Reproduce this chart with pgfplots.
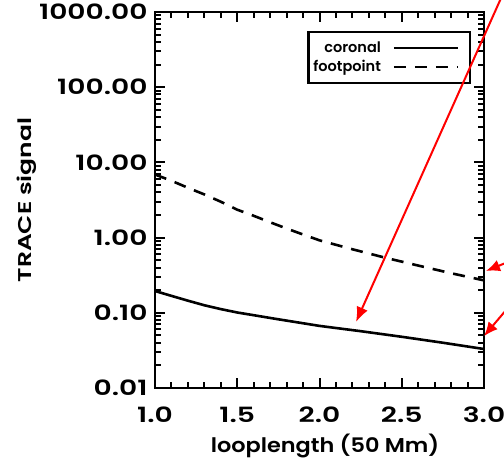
\documentclass[border=0pt]{standalone}
\usepackage{fontspec}
\setmainfont{Poppins}[BoldFont={Poppins SemiBold}]
\newfontfamily\tickfont{Poppins SemiBold}[FakeStretch=1.34]
\newfontfamily\xlabfont{Poppins SemiBold}[FakeStretch=1.12]
\newfontfamily\ylabfont{Poppins SemiBold}[FakeStretch=1.35]
\usepackage{pgfplots}
\pgfplotsset{compat=1.18}
\usetikzlibrary{arrows.meta}
\begin{document}
\begin{tikzpicture}
\begin{axis}[
  name=ax,
  scale only axis,
  width=329pt, height=376pt,
  ymode=log,
  xmin=1, xmax=3, ymin=0.01, ymax=1000,
  xtick={1,1.5,2,2.5,3},
  xticklabels={1.0,1.5,2.0,2.5,3.0},
  ytick={0.01,0.1,1,10,100,1000},
  yticklabels={0.01,0.10,1.00,10.00,100.00,1000.00},
  minor x tick num=4,
  tick align=inside,
  major tick length=9pt,
  minor tick length=5pt,
  every tick/.append style={black, line width=2pt},
  axis line style={line width=2.6pt},
  /pgf/number format/assume math mode=true,
  tick label style={font=\fontsize{21}{24}\tickfont},
  xticklabel style={anchor=center, yshift=-27pt},
  yticklabel style={anchor=east, xshift=-4pt},
  xlabel={looplength (50 Mm)},
  ylabel={TRACE signal},
  every axis x label/.style={at={(axis description cs:0.517,-0.155)}, anchor=center,
     font=\fontsize{20}{24}\xlabfont},
  every axis y label/.style={at={(axis description cs:-0.389,0.5)}, anchor=center, rotate=90,
     font=\fontsize{18.5}{20}\ylabfont},
  legend plot pos=right,
  legend cell align=right,
  legend style={at={(rel axis cs:1,1)}, anchor=north east, xshift=-13pt, yshift=-19pt,
    draw=black, line width=2.2pt, font=\fontsize{14.5}{16}\selectfont\bfseries,
    row sep=2pt, inner xsep=3pt, inner ysep=8pt},
  legend image code/.code={\path[draw=none] (0pt,0pt) -- (84pt,0pt); \draw[#1, line width=2pt] (11pt,0pt) -- (75pt,0pt);},
]
\addplot[black, line width=2.6pt] coordinates {
 (1.0,0.195) (1.1,0.168) (1.2,0.145) (1.3,0.126) (1.4,0.112) (1.5,0.101)
 (1.75,0.082) (2.0,0.067) (2.25,0.057) (2.5,0.048) (2.75,0.040) (3.0,0.033)};
\addlegendentry{coronal}
\addplot[black, line width=2.6pt, dash pattern=on 12pt off 9pt] coordinates {
 (1.0,6.9) (1.1,5.7) (1.2,4.6) (1.3,3.75) (1.4,3.0) (1.5,2.35) (1.6,1.95)
 (1.7,1.6) (1.8,1.32) (1.9,1.1) (2.0,0.92) (2.2,0.70) (2.4,0.54) (2.6,0.425)
 (2.8,0.336) (3.0,0.27)};
\addlegendentry{footpoint}
\coordinate (a1s) at (axis cs:3.207,4900);
\coordinate (a1e) at (axis cs:2.222,0.0755);
\coordinate (a2s) at (axis cs:3.34,0.705);
\coordinate (a2e) at (axis cs:3.012,0.36);
\coordinate (a3s) at (axis cs:3.34,0.37);
\coordinate (a3e) at (axis cs:3.0,0.049);
\end{axis}
% tick marks on all four sides
\foreach \i in {1,...,19} {
  \pgfmathsetmacro\len{mod(\i,5)==0 ? 10 : 6}
  \draw[black, line width=2pt] ([xshift={\i*16.45pt}]ax.south west) -- ++(0pt,{\len*1pt});
  \draw[black, line width=2pt] ([xshift={\i*16.45pt}]ax.north west) -- ++(0pt,{-\len*1pt});
}
\foreach \d in {0,...,4} {
  \foreach \k in {2,...,9} {
    \draw[black, line width=2pt] ([yshift={(\d+log10(\k))*75.2pt}]ax.south west) -- ++(6pt,0pt);
    \draw[black, line width=2pt] ([yshift={(\d+log10(\k))*75.2pt}]ax.south east) -- ++(-6pt,0pt);
  }
}
\foreach \d in {1,...,4} {
  \draw[black, line width=2pt] ([yshift={\d*75.2pt}]ax.south west) -- ++(10pt,0pt);
  \draw[black, line width=2pt] ([yshift={\d*75.2pt}]ax.south east) -- ++(-10pt,0pt);
}
\draw[red, line width=2pt, -{Latex[length=15pt,width=12pt]}] (a1s) -- (a1e);
\draw[red, line width=2pt, -{Latex[length=14pt,width=12pt]}] (a2s) -- (a2e);
\draw[red, line width=2pt, -{Latex[length=14pt,width=12pt]}] (a3s) -- (a3e);
\pgfresetboundingbox
\path[use as bounding box] ([xshift=-155pt,yshift=-71pt]ax.south west) rectangle ([xshift=20pt,yshift=12pt]ax.north east);
\end{tikzpicture}
\end{document}
